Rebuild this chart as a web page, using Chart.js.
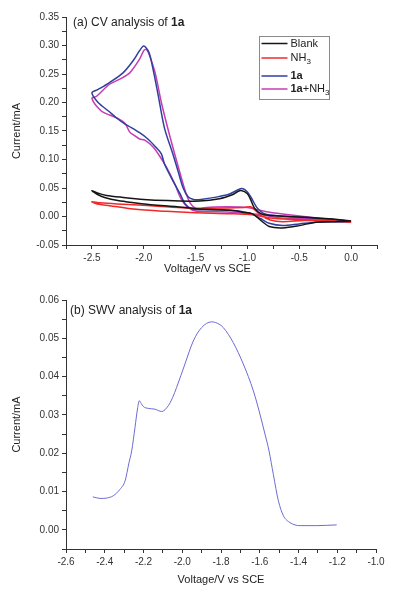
<!DOCTYPE html>
<html>
<head>
<meta charset="utf-8">
<script src="https://cdn.jsdelivr.net/npm/chart.js@4.4.1/dist/chart.umd.min.js"></script>
<style>
  html, body { margin: 0; padding: 0; background: #fff; }
  .box { position: absolute; left: 0; width: 394px; }
  #cvBox { top: 0; height: 290px; }
  #swvBox { top: 290px; height: 310px; }
</style>
</head>
<body>
<div class="box" id="cvBox"><canvas id="cvChart"></canvas></div>
<div class="box" id="swvBox"><canvas id="swvChart"></canvas></div>
<script>
// (a) CV curves: voltage (V vs SCE) and current (mA), each a closed loop
const blankV = [0.00, -0.15, -0.30, -0.50, -0.66, -0.80, -0.87, -0.93, -0.97, -1.00, -1.06, -1.10, -1.14, -1.27, -1.46, -1.77, -2.00, -2.20, -2.36, -2.44, -2.50,
  -2.45, -2.37, -2.25, -2.09, -1.90, -1.60, -1.46, -1.30, -1.14, -1.045, -0.95, -0.87, -0.79, -0.66, -0.50, -0.34, -0.15, 0.00];
const blankI = [-0.008, -0.005, -0.003, -0.001, 0.0005, 0.002, 0.005, 0.014, 0.030, 0.040, 0.0455, 0.043, 0.0385, 0.031, 0.027, 0.028, 0.030, 0.0335, 0.037, 0.041, 0.0455,
  0.039, 0.033, 0.028, 0.024, 0.020, 0.016, 0.013, 0.012, 0.0105, 0.0075, 0.0047, -0.007, -0.0175, -0.020, -0.016, -0.010, -0.009, -0.008];

const nh3V = [0.00, -0.20, -0.45, -0.66, -0.78, -0.87, -0.93, -0.97, -1.03, -1.20, -1.45, -1.60, -1.93, -2.26, -2.42, -2.50,
  -2.45, -2.33, -2.10, -1.78, -1.50, -1.20, -0.95, -0.80, -0.60, -0.30, 0.00];
const nh3I = [-0.010, -0.008, -0.007, -0.009, -0.006, 0.002, 0.012, 0.017, 0.016, 0.015, 0.0145, 0.015, 0.019, 0.022, 0.024, 0.026,
  0.022, 0.019, 0.013, 0.009, 0.0066, 0.005, 0.003, -0.002, -0.005, -0.006, -0.010];

const oneaV = [0.00, -0.20, -0.40, -0.60, -0.75, -0.85, -0.91, -0.96, -1.00, -1.05, -1.10, -1.18, -1.30, -1.45, -1.52, -1.57, -1.62, -1.67, -1.72, -1.80, -1.86, -1.91, -1.95, -2.00, -2.04, -2.10, -2.20, -2.33, -2.44, -2.50,
  -2.44, -2.34, -2.25, -2.18, -2.12, -2.04, -1.96, -1.88, -1.83, -1.80, -1.72, -1.65, -1.60, -1.54, -1.46, -1.30, -1.14, -1.045, -0.95, -0.87, -0.79, -0.66, -0.50, -0.34, -0.15, 0.00];
const oneaI = [-0.010, -0.005, -0.002, 0.000, 0.002, 0.006, 0.016, 0.032, 0.043, 0.049, 0.046, 0.039, 0.034, 0.030, 0.030, 0.034, 0.050, 0.080, 0.110, 0.155, 0.212, 0.258, 0.288, 0.299, 0.291, 0.274, 0.252, 0.235, 0.223, 0.217,
  0.200, 0.185, 0.171, 0.162, 0.156, 0.147, 0.136, 0.121, 0.110, 0.092, 0.063, 0.040, 0.022, 0.0135, 0.012, 0.012, 0.0105, 0.0085, 0.004, -0.004, -0.012, -0.016, -0.013, -0.010, -0.009, -0.010];

const oneaNh3V = [0.00, -0.30, -0.60, -0.80, -0.90, -1.00, -1.20, -1.40, -1.48, -1.55, -1.60, -1.67, -1.75, -1.83, -1.89, -1.95, -1.975, -2.00, -2.04, -2.135, -2.23, -2.33, -2.455, -2.50,
  -2.41, -2.33, -2.25, -2.18, -2.135, -2.09, -2.04, -1.99, -1.91, -1.85, -1.78, -1.70, -1.64, -1.575, -1.49, -1.20, -0.90, -0.70, -0.40, 0.00];
const oneaNh3I = [-0.008, -0.003, 0.003, 0.008, 0.012, 0.016, 0.017, 0.016, 0.013, 0.023, 0.045, 0.089, 0.142, 0.200, 0.252, 0.285, 0.293, 0.291, 0.276, 0.252, 0.241, 0.232, 0.211, 0.207,
  0.185, 0.178, 0.172, 0.163, 0.148, 0.142, 0.136, 0.134, 0.122, 0.107, 0.086, 0.057, 0.031, 0.016, 0.0093, 0.008, 0.004, -0.002, -0.004, -0.008];

// (b) SWV curve
const swvV = [-2.462, -2.42, -2.39, -2.356, -2.321, -2.295, -2.275, -2.261, -2.244, -2.23, -2.222, -2.212, -2.201, -2.175, -2.141, -2.106, -2.072, -2.05, -2.029, -1.986, -1.943, -1.9, -1.848, -1.81, -1.788, -1.737, -1.685, -1.633, -1.599, -1.573, -1.552, -1.53, -1.504, -1.478, -1.444, -1.392, -1.306, -1.203];
const swvI = [0.0086, 0.0082, 0.0083, 0.0089, 0.0106, 0.0128, 0.0175, 0.0206, 0.0267, 0.0319, 0.0337, 0.0330, 0.0322, 0.0317, 0.0315, 0.0309, 0.0324, 0.0345, 0.0372, 0.0433, 0.0493, 0.0528, 0.0543, 0.0537, 0.0528, 0.0489, 0.0433, 0.0363, 0.0302, 0.0250, 0.0206, 0.0145, 0.0076, 0.0037, 0.0019, 0.0011, 0.0011, 0.0013];

// tick labels
const cvVoltLabels = ['-2.5', '-2.0', '-1.5', '-1.0', '-0.5', '0.0'];
const cvCurrLabels = ['-0.05', '0.00', '0.05', '0.10', '0.15', '0.20', '0.25', '0.30', '0.35'];
const swvVoltLabels = ['-2.6', '-2.4', '-2.2', '-2.0', '-1.8', '-1.6', '-1.4', '-1.2', '-1.0'];
const swvCurrLabels = ['0.00', '0.01', '0.02', '0.03', '0.04', '0.05', '0.06'];

const FONT = '"Liberation Sans", Arial, sans-serif';
Chart.defaults.font.family = FONT;
Chart.defaults.color = '#333';

const pts = (xs, ys) => xs.map((x, i) => ({ x: x, y: ys[i] }));
const labelFor = labels => v => labels.find(s => Math.abs(parseFloat(s) - v) < 1e-6) || '';

function stepTicks(min, max, step) {
  const out = [];
  const n = Math.round((max - min) / step);
  for (let i = 0; i <= n; i++) out.push({ value: +(min + i * step).toFixed(4) });
  return out;
}

function axis(min, max, step, labels, title, titlePad, fit) {
  return {
    type: 'linear',
    min: min,
    max: max,
    afterBuildTicks: s => { s.ticks = stepTicks(min, max, step); },
    afterFit: fit,
    ticks: { callback: labelFor(labels), autoSkip: false, maxRotation: 0, minRotation: 0, font: { size: 10 }, color: '#333', padding: 3 },
    grid: { display: true, drawOnChartArea: false, drawTicks: true, tickLength: 4, tickColor: '#333', tickWidth: 1 },
    border: { display: true, color: '#333', width: 1 },
    title: { display: !!title, text: title, font: { size: 11 }, color: '#222', padding: titlePad }
  };
}

// in-plot caption with a bold part, plus an optional x caption under the axis
const panelText = {
  id: 'panelText',
  afterDraw(chart, args, opts) {
    const ctx = chart.ctx;
    const a = chart.chartArea;
    ctx.save();
    ctx.fillStyle = '#222';
    ctx.textBaseline = 'middle';
    let x = a.left + opts.dx;
    const y = a.top + opts.dy;
    opts.parts.forEach(p => {
      ctx.font = (p.bold ? 'bold ' : '') + '12px ' + FONT;
      ctx.fillText(p.text, x, y);
      x += ctx.measureText(p.text).width;
    });
    if (opts.xCaption) {
      const c = opts.xCaption;
      ctx.font = '11px ' + FONT;
      ctx.textAlign = 'center';
      ctx.fillText(c.text, (a.left + a.right) / 2 + c.dx, a.bottom + c.dy);
    }
    ctx.restore();
  }
};

// boxed legend with bold names and subscripts
const boxLegend = {
  id: 'boxLegend',
  afterDraw(chart, args, opts) {
    if (!opts.entries) return;
    const ctx = chart.ctx;
    const b = opts.box;
    ctx.save();
    ctx.strokeStyle = '#8a8a8a';
    ctx.lineWidth = 1;
    ctx.strokeRect(b.x, b.y, b.w, b.h);
    opts.entries.forEach(e => {
      ctx.strokeStyle = e.color;
      ctx.lineWidth = 1.5;
      ctx.beginPath();
      ctx.moveTo(b.x + 2, e.y);
      ctx.lineTo(b.x + 28, e.y);
      ctx.stroke();
      let x = b.x + 31;
      ctx.fillStyle = '#222';
      ctx.textBaseline = 'middle';
      e.parts.forEach(p => {
        ctx.font = (p.bold ? 'bold ' : '') + (p.sub ? '8px ' : '11px ') + FONT;
        ctx.fillText(p.text, x, e.y + (p.sub ? 4 : 0));
        x += ctx.measureText(p.text).width;
      });
    });
    ctx.restore();
  }
};

const cvLine = (label, xs, ys, color) => ({
  label: label, data: pts(xs, ys), showLine: true, borderColor: color, backgroundColor: color,
  borderWidth: 1.5, pointRadius: 0, tension: 0.3, fill: false
});

new Chart(document.getElementById('cvChart'), {
  type: 'scatter',
  data: {
    datasets: [
      cvLine('Blank', blankV, blankI, '#151515'),
      cvLine('NH3', nh3V, nh3I, '#f02a2a'),
      cvLine('1a', oneaV, oneaI, '#2f3f9e'),
      cvLine('1a+NH3', oneaNh3V, oneaNh3I, '#c63cb2')
    ]
  },
  options: {
    responsive: true, maintainAspectRatio: false, animation: false,
    layout: { padding: { left: 0, top: 17, right: 17, bottom: 0 } },
    scales: {
      x: axis(-2.75, 0.25, 0.25, cvVoltLabels, '', { top: 0, bottom: 14 }, s => { s.height = 45; }),
      y: axis(-0.05, 0.35, 0.025, cvCurrLabels, 'Current/mA', { top: 10, bottom: 0 }, s => { s.width = 66; })
    },
    plugins: {
      legend: { display: false },
      tooltip: { enabled: false },
      panelText: {
        dx: 7, dy: 6, parts: [{ text: '(a) CV analysis of ' }, { text: '1a', bold: true }],
        xCaption: { text: 'Voltage/V vs SCE', dx: -14, dy: 24 }
      },
      boxLegend: {
        box: { x: 259.5, y: 36.5, w: 70, h: 63 },
        entries: [
          { color: '#151515', y: 43.5, parts: [{ text: 'Blank' }] },
          { color: '#f02a2a', y: 58, parts: [{ text: 'NH' }, { text: '3', sub: true }] },
          { color: '#2f3f9e', y: 76, parts: [{ text: '1a', bold: true }] },
          { color: '#c63cb2', y: 89, parts: [{ text: '1a', bold: true }, { text: '+NH' }, { text: '3', sub: true }] }
        ]
      }
    }
  },
  plugins: [panelText, boxLegend]
});

new Chart(document.getElementById('swvChart'), {
  type: 'scatter',
  data: {
    datasets: [{
      label: 'SWV', data: pts(swvV, swvI), showLine: true, borderColor: '#6b6bd6', backgroundColor: '#6b6bd6',
      borderWidth: 1, pointRadius: 0, cubicInterpolationMode: 'monotone', fill: false
    }]
  },
  options: {
    responsive: true, maintainAspectRatio: false, animation: false,
    layout: { padding: { left: 0, top: 10, right: 18, bottom: 0 } },
    scales: {
      x: axis(-2.6, -1.0, 0.1, swvVoltLabels, 'Voltage/V vs SCE', { top: 0, bottom: 13 }, s => { s.height = 51; }),
      y: axis(-0.005, 0.06, 0.005, swvCurrLabels, 'Current/mA', { top: 10, bottom: 0 }, s => { s.width = 66; })
    },
    plugins: {
      legend: { display: false },
      tooltip: { enabled: false },
      panelText: { dx: 4, dy: 11, parts: [{ text: '(b) SWV analysis of ' }, { text: '1a', bold: true }] },
      boxLegend: {}
    }
  },
  plugins: [panelText, boxLegend]
});
</script>
</body>
</html>
